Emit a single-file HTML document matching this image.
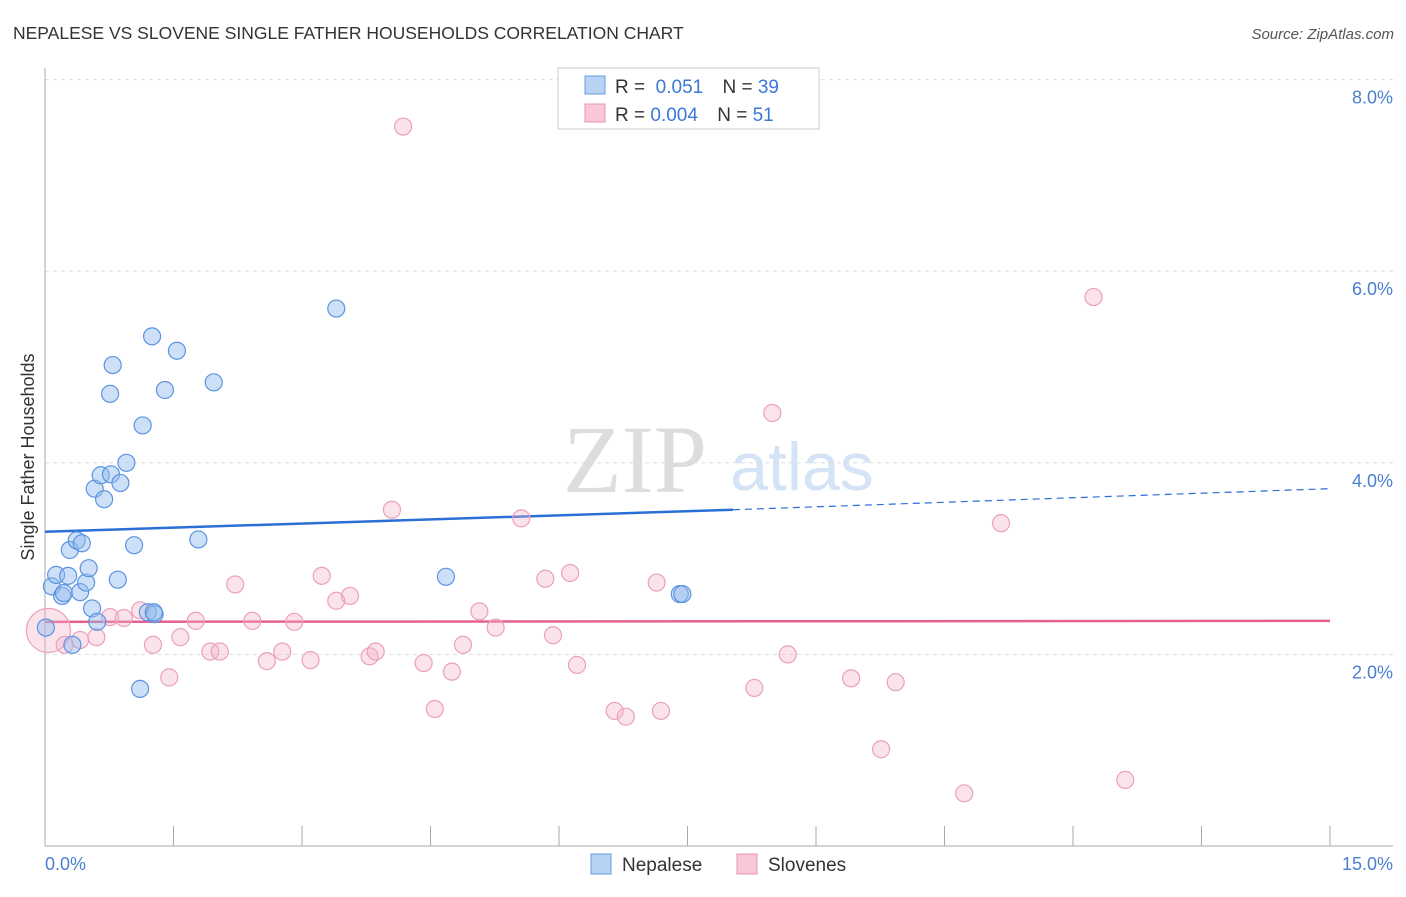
<!DOCTYPE html>
<html><head><meta charset="utf-8"><style>
body{margin:0;background:#fff;font-family:"Liberation Sans",sans-serif}
</style></head><body>
<svg id="c" width="1406" height="892" style="font-family:'Liberation Sans',sans-serif">
<text x="13" y="39" font-size="17.5" fill="#333">NEPALESE VS SLOVENE SINGLE FATHER HOUSEHOLDS CORRELATION CHART</text>
<text x="1394" y="39" font-size="15" fill="#555" text-anchor="end" font-style="italic">Source: ZipAtlas.com</text>
<text x="635" y="492" font-size="96" fill="#ddd" font-family="Liberation Serif,serif" text-anchor="middle">ZIP</text>
<text x="802" y="490" font-size="68" fill="#d4e3f5" text-anchor="middle">atlas</text>
<g id="grid"></g><g id="axes"></g><g id="trend"></g><g id="pts"></g>
<text transform="translate(34,457) rotate(-90)" font-size="18" fill="#333" text-anchor="middle">Single Father Households</text>
<text x="45" y="870" font-size="18" fill="#4a7fd1">0.0%</text>
<text x="1393" y="870" font-size="18" fill="#4a7fd1" text-anchor="end">15.0%</text>
<g>
<rect x="558" y="68" width="261" height="61" fill="#fff" stroke="#ccc"/>
<rect x="585" y="76" width="20" height="18" fill="#b8d2f5" stroke="#6a9ee0"/>
<text x="615" y="93" font-size="19" fill="#333">R = <tspan fill="#3b78d8">&#160;0.051</tspan>   <tspan dx="14">N = </tspan><tspan fill="#3b78d8">39</tspan></text>
<rect x="585" y="104" width="20" height="18" fill="#f9c8d8" stroke="#e896b3"/>
<text x="615" y="121" font-size="19" fill="#333">R = <tspan fill="#3b78d8">0.004</tspan>   <tspan dx="14">N = </tspan><tspan fill="#3b78d8"> 51</tspan></text>
</g>
<g>
<rect x="591" y="854" width="20" height="20" fill="#b8d2f5" stroke="#6a9ee0"/>
<text x="622" y="871" font-size="19" fill="#333">Nepalese</text>
<rect x="737" y="854" width="20" height="20" fill="#f9c8d8" stroke="#e896b3"/>
<text x="768" y="871" font-size="19" fill="#333">Slovenes</text>
</g>
</svg>
<script>
const yTicks=[2,4,6,8];
const yTickLabels=["2.0%","4.0%","6.0%","8.0%"];
const xTicks=[0,1.5,3,4.5,6,7.5,9,10.5,12,13.5,15];
const nepX=[0.01,0.08,0.13,0.20,0.22,0.27,0.29,0.32,0.37,0.41,0.43,0.48,0.51,0.55,0.61,0.58,0.69,0.65,0.76,0.77,0.79,0.85,0.88,0.95,1.04,1.11,1.14,1.20,1.25,1.28,1.27,1.40,1.54,1.79,1.97,3.40,4.68,7.41,7.44];
const nepY=[2.28,2.71,2.83,2.61,2.64,2.82,3.09,2.10,3.19,2.65,3.16,2.75,2.90,2.48,2.34,3.73,3.62,3.87,4.72,3.88,5.02,2.78,3.79,4.00,3.14,1.64,4.39,2.44,5.32,2.42,2.44,4.76,5.17,3.20,4.84,5.61,2.81,2.63,2.63];
const sloX=[0.04,0.23,0.41,0.60,0.76,0.92,1.11,1.26,1.45,1.58,1.76,1.93,2.04,2.22,2.42,2.59,2.77,2.91,3.10,3.23,3.40,3.56,3.79,3.86,4.05,4.18,4.42,4.55,4.75,4.88,5.07,5.26,5.56,5.84,5.93,6.13,6.21,6.65,6.78,7.14,7.19,8.28,8.49,8.67,9.41,9.76,9.93,10.73,11.16,12.24,12.61];
const sloY=[2.25,2.10,2.15,2.18,2.39,2.38,2.46,2.10,1.76,2.18,2.35,2.03,2.03,2.73,2.35,1.93,2.03,2.34,1.94,2.82,2.56,2.61,1.98,2.03,3.51,7.51,1.91,1.43,1.82,2.10,2.45,2.28,3.42,2.79,2.20,2.85,1.89,1.41,1.35,2.75,1.41,1.65,4.52,2.00,1.75,1.01,1.71,0.55,3.37,5.73,0.69];
const nepTrend=[3.28,3.51,3.73]; // at x=0, 8.03 (solid end), 15
const nepTrendX=[0,8.03,15];
const sloTrend=[2.34,2.35];
const X=v=>45+v*(1285/15), Y=v=>846-v*95.8;
const NS="http://www.w3.org/2000/svg";
function mk(t,a,p){const e=document.createElementNS(NS,t);for(const k in a)e.setAttribute(k,a[k]);p.appendChild(e);return e;}
const grid=document.getElementById('grid'),axes=document.getElementById('axes'),trend=document.getElementById('trend'),pts=document.getElementById('pts');
yTicks.forEach((v,i)=>{
 const l=mk('line',{x1:45,x2:1393,y1:Y(v),y2:Y(v),stroke:'#ddd','stroke-dasharray':'4,4'},grid);
 
 
 const t=mk('text',{x:1393,y:Y(v)+24,'font-size':18,fill:'#4a7fd1','text-anchor':'end'},grid);
 t.textContent=yTickLabels[i];
 
 
});
const ya=mk('line',{x1:45,x2:45,y1:68,y2:846,stroke:'#aaa'},axes);


const xa=mk('line',{x1:45,x2:1393,y1:846,y2:846,stroke:'#aaa'},axes);


xTicks.forEach(v=>{
 const t=mk('line',{x1:X(v),x2:X(v),y1:826,y2:846,stroke:'#aaa'},axes);
 
 
});
const b1=mk('line',{x1:X(nepTrendX[0]),y1:Y(nepTrend[0]),x2:X(nepTrendX[1]),y2:Y(nepTrend[1]),stroke:'#2a6fd6','stroke-width':2.5},trend);


const b2=mk('line',{x1:X(nepTrendX[1]),y1:Y(nepTrend[1]),x2:X(nepTrendX[2]),y2:Y(nepTrend[2]),stroke:'#2a6fd6','stroke-width':1.2,'stroke-dasharray':'7,5'},trend);


const p1=mk('line',{x1:X(0),y1:Y(sloTrend[0]),x2:X(15),y2:Y(sloTrend[1]),stroke:'#e5608e','stroke-width':2.5},trend);


sloX.forEach((x,i)=>{
 const c=mk('circle',{cx:X(x),cy:Y(sloY[i]),r:i===0?22:8.5,fill:'rgba(244,174,198,0.35)',stroke:'#eba0bb','stroke-width':1.2},pts);
 
 
});
nepX.forEach((x,i)=>{
 const c=mk('circle',{cx:X(x),cy:Y(nepY[i]),r:8.5,fill:'rgba(147,187,238,0.45)',stroke:'#5b94e0','stroke-width':1.2},pts);
 
 
});
</script>
</body></html>
